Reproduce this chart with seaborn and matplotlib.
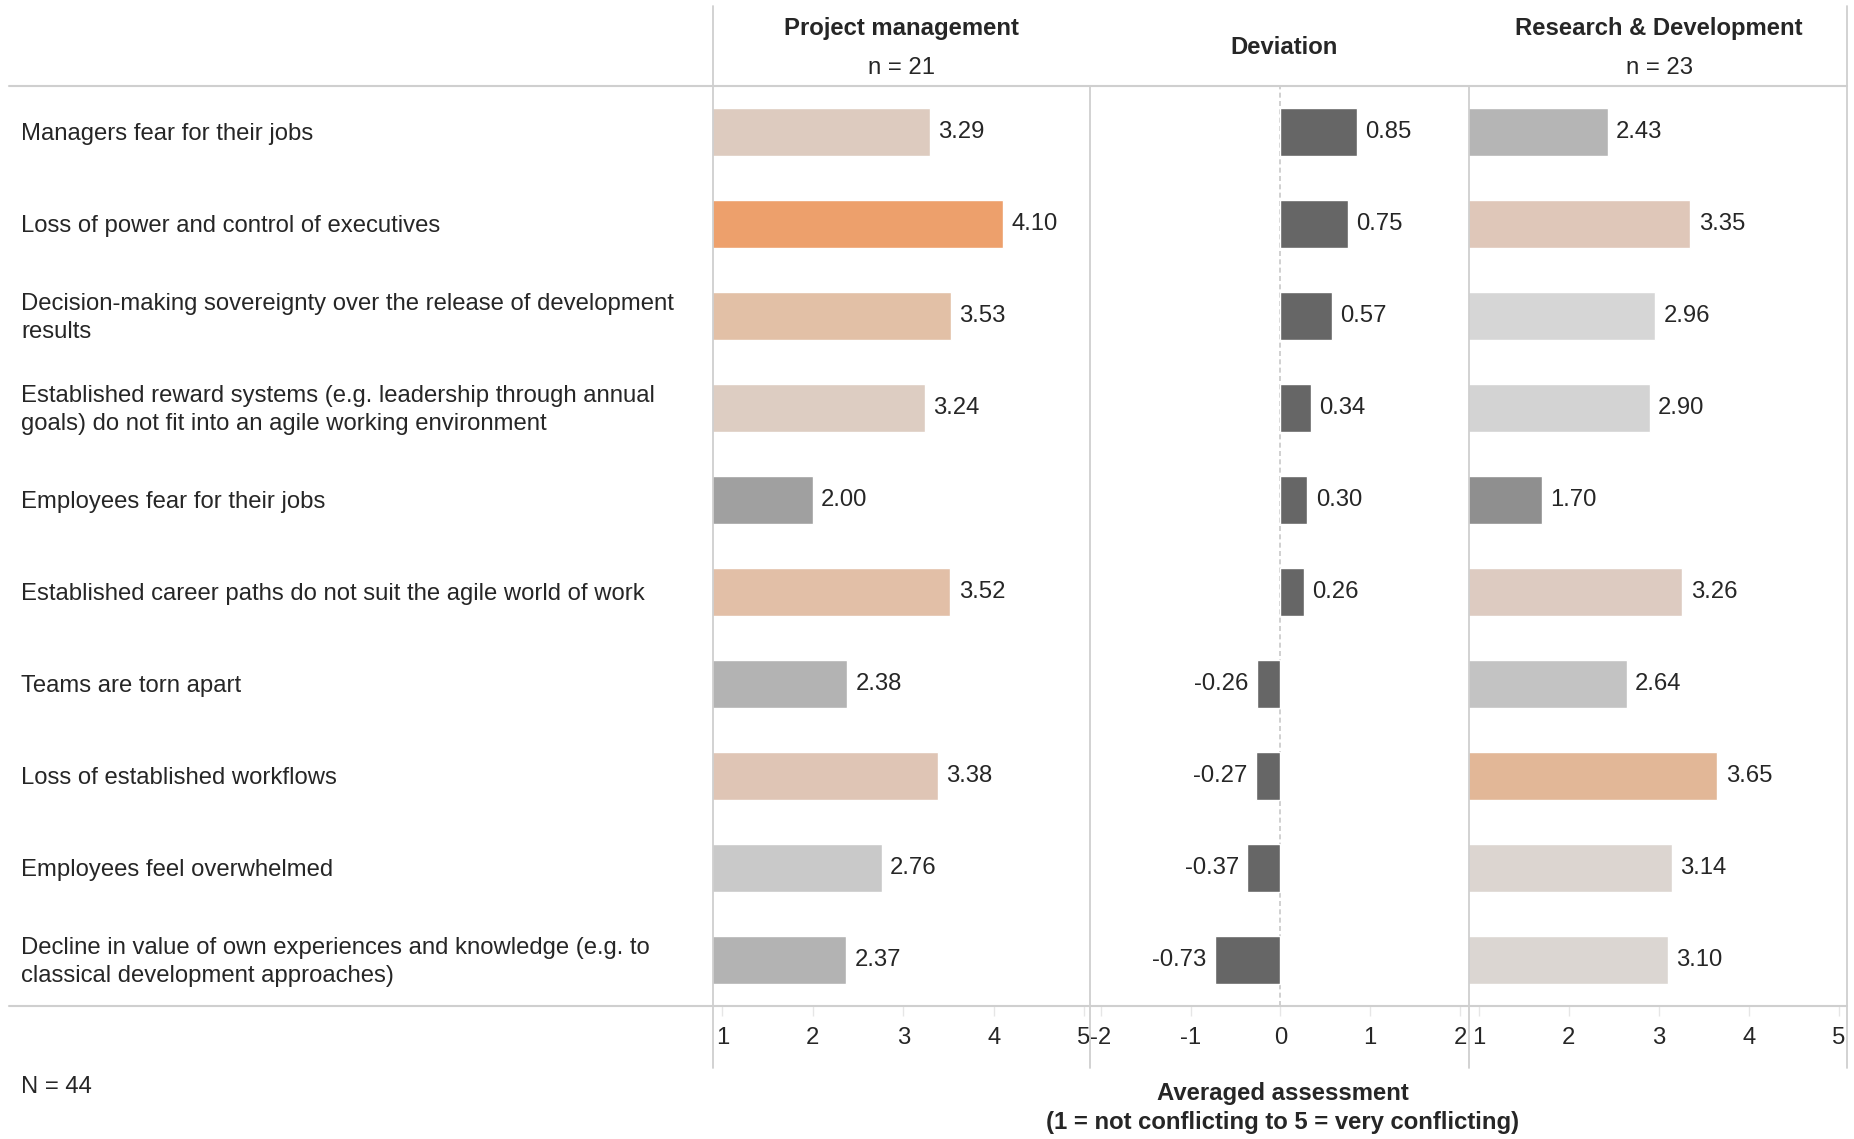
import matplotlib
matplotlib.use("Agg")
import matplotlib.pyplot as plt
import seaborn as sns
from matplotlib.lines import Line2D

sns.set_style("white")
plt.rcParams['font.family'] = ['Liberation Sans', 'DejaVu Sans']

# --- data ---
items = [
    "Managers fear for their jobs",
    "Loss of power and control of executives",
    "Decision-making sovereignty over the release of development\nresults",
    "Established reward systems (e.g. leadership through annual\ngoals) do not fit into an agile working environment",
    "Employees fear for their jobs",
    "Established career paths do not suit the agile world of work",
    "Teams are torn apart",
    "Loss of established workflows",
    "Employees feel overwhelmed",
    "Decline in value of own experiences and knowledge (e.g. to\nclassical development approaches)",
]
pm_values = [3.29, 4.10, 3.53, 3.24, 2.00, 3.52, 2.38, 3.38, 2.76, 2.37]
rd_values = [2.43, 3.35, 2.96, 2.90, 1.70, 3.26, 2.64, 3.65, 3.14, 3.10]
deviation = [0.85, 0.75, 0.57, 0.34, 0.30, 0.26, -0.26, -0.27, -0.37, -0.73]

pm_colors = ['#DDCBBF', '#EDA06C', '#E2C0A6', '#DDCDC2', '#A0A0A0',
             '#E2BFA7', '#B3B3B3', '#DFC5B5', '#C9C9C9', '#B3B3B3']
rd_colors = ['#B5B5B5', '#DFC7B9', '#D6D6D6', '#D3D3D3', '#8F8F8F',
             '#DDCBC1', '#C3C3C3', '#E2B797', '#DCD5D0', '#DBD6D2']
dev_color = '#666666'

score_ticks = [1, 2, 3, 4, 5]
dev_ticks = [-2, -1, 0, 1, 2]

W, H = 1854, 1139
fig = plt.figure(figsize=(W / 100, H / 100), dpi=100)

def fx(px):
    return px / W

def fy(py):
    return 1 - py / H

top, bottom = 86, 1006
panels = [(713, 1090), (1090, 1469), (1469, 1847)]
FS = 17.2
line_col = '#CFCFCF'

def make_panel(x0, x1, values, colors, xlim, ticks):
    ax = fig.add_axes([fx(x0), fy(bottom), fx(x1 - x0), (bottom - top) / H])
    sns.barplot(x=values, y=list(range(len(values))), hue=list(range(len(values))),
                palette=colors, orient='h', width=0.53, legend=False,
                ax=ax, saturation=1)
    ax.set_xlim(*xlim)
    ax.set_ylim(len(values) - 0.5, -0.5)
    ax.set_yticks([])
    ax.set_ylabel('')
    ax.set_xticks(ticks)
    ax.set_xticklabels([str(t) for t in ticks], fontsize=FS)
    ax.tick_params(axis='x', length=7, width=1, color='#E6E6E6', pad=8, direction='out')
    ax.xaxis.set_ticks_position('bottom')
    for s in ax.spines.values():
        s.set_visible(False)
    for c in ax.containers:
        ax.bar_label(c, fmt='%.2f', padding=6, fontsize=FS)
    ax.patch.set_alpha(0)
    return ax

ax_pm = make_panel(*panels[0], pm_values, pm_colors, (0.895, 5.065), score_ticks)
ax_dev = make_panel(*panels[1], deviation, [dev_color] * len(deviation), (-2.12, 2.1), dev_ticks)
ax_dev.axvline(0, color='#C8C8C8', lw=1.2, ls=(0, (3, 2)), zorder=0)
ax_rd = make_panel(*panels[2], rd_values, rd_colors, (0.89, 5.09), score_ticks)

# row labels
row_h = (bottom - top) / len(items)
for i, lab in enumerate(items):
    fig.text(fx(21), fy(top + row_h * (i + 0.5) + 2), lab, fontsize=FS,
             ha='left', va='center', linespacing=1.3)

# grid lines
for y in (top, bottom):
    fig.add_artist(Line2D([fx(9), fx(1847)], [fy(y), fy(y)], color=line_col, lw=1.5))
for x, y0 in ((713, 6), (1090, top), (1469, top), (1847, 6)):
    fig.add_artist(Line2D([fx(x), fx(x)], [fy(y0), fy(1068)], color=line_col, lw=1.3))

# headers
fig.text(fx(901), fy(28), "Project management", fontsize=FS, fontweight='bold', ha='center', va='center')
fig.text(fx(901), fy(68), "n = 21", fontsize=FS, ha='center', va='center')
fig.text(fx(1284), fy(48), "Deviation", fontsize=FS, fontweight='bold', ha='center', va='center')
fig.text(fx(1659), fy(28), "Research & Development", fontsize=FS, fontweight='bold', ha='center', va='center')
fig.text(fx(1659), fy(68), "n = 23", fontsize=FS, ha='center', va='center')

fig.text(fx(21), fy(1087), "N = 44", fontsize=FS, ha='left', va='center')
fig.text(fx(1283), fy(1108), "Averaged assessment\n(1 = not conflicting to 5 = very conflicting)",
         fontsize=FS, fontweight='bold', ha='center', va='center', linespacing=1.32)

fig.savefig("out.png", dpi=100)
